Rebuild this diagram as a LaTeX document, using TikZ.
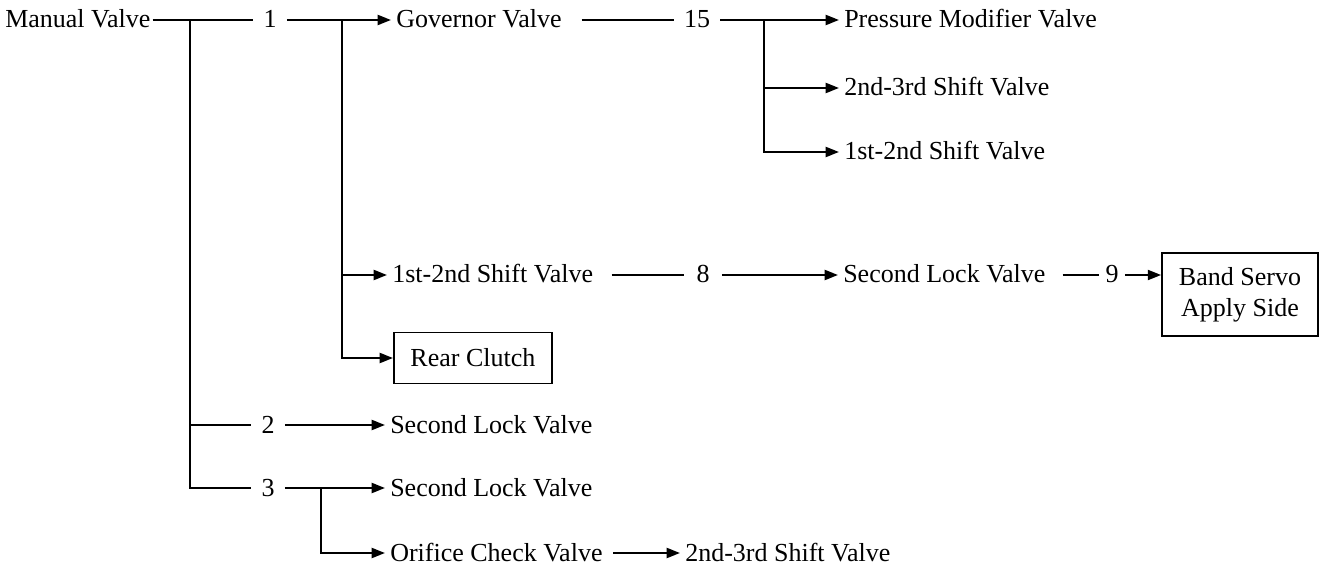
\documentclass[tikz,border=0pt]{standalone}
\usepackage{fontspec}
\setmainfont{Liberation Serif}
\usetikzlibrary{arrows.meta}
\begin{document}
\begin{tikzpicture}[x=0.75pt,y=-0.75pt,
  every node/.style={font=\fontsize{19.5pt}{23pt}\selectfont, inner ysep=0pt},
  lbl/.style={anchor=west, inner xsep=3.75pt, text height=15.5pt, text depth=3.5pt},
  num/.style={anchor=center, text height=15.5pt, text depth=3.5pt},
  box/.style={draw, line width=1.3pt, inner sep=0pt},
  wire/.style={line width=1.5pt},
  arr/.style={wire, -{Triangle[length=10pt,width=7.5pt]}}]
\fill[white] (0,0) rectangle (1323,566);
\useasboundingbox (0,0) rectangle (1323,566);

% nodes
\node[lbl, inner xsep=0pt] (mv) at (5,20) {Manual Valve};
\node[num, inner xsep=7.5pt] (n1) at (270,20) {1};
\node[lbl] (gv) at (391,20) {Governor Valve};
\node[num, inner xsep=7.5pt] (n15) at (697,20) {15};
\node[lbl] (pmv) at (839,20) {Pressure Modifier Valve};
\node[lbl] (s23a) at (839,88) {2nd-3rd Shift Valve};
\node[lbl] (s12a) at (839,152) {1st-2nd Shift Valve};
\node[lbl] (s12b) at (387,275) {1st-2nd Shift Valve};
\node[num, inner xsep=9pt] (n8) at (703,275) {8};
\node[lbl] (slb) at (838,275) {Second Lock Valve};
\node[num, inner xsep=4.5pt] (n9) at (1112,275) {9};
\node[box, align=center, minimum width=117pt, minimum height=62.25pt] (bs) at (1240,294.5) {Band Servo\\Apply Side};
\node[box, anchor=west, minimum width=118.5pt, minimum height=38.25pt] (rc) at (393,358) {Rear Clutch};
\node[num, inner xsep=7.5pt] (n2) at (268,425) {2};
\node[lbl] (sl2) at (385,425) {Second Lock Valve};
\node[num, inner xsep=7.5pt] (n3) at (268,488) {3};
\node[lbl] (sl3) at (385,488) {Second Lock Valve};
\node[lbl] (ocv) at (385,553) {Orifice Check Valve};
\node[lbl] (s23b) at (680,553) {2nd-3rd Shift Valve};

% junctions
\coordinate (jm) at (190,20);
\coordinate (j1) at (342,20);
\coordinate (j15) at (764,20);
\coordinate (j3) at (321,488);

% connectors
\draw[wire, shorten <=1.5pt] (mv.east) -- (n1.west);
\draw[arr] (n1.east) -- (gv.west);
\draw[wire] (jm) |- (n2.west);
\draw[wire] (jm) |- (n3.west);
\draw[arr] (j1) |- (s12b.west);
\draw[arr] (j1) |- (rc.west);
\draw[wire, shorten <=11pt] (gv.east) -- (n15.west);
\draw[arr] (n15.east) -- (pmv.west);
\draw[arr] (j15) |- (s23a.west);
\draw[arr] (j15) |- (s12a.west);
\draw[wire, shorten <=10pt] (s12b.east) -- (n8.west);
\draw[arr] (n8.east) -- (slb.west);
\draw[wire, shorten <=9pt] (slb.east) -- (n9.west);
\draw[arr] (n9.east) -- (n9.east -| bs.west);
\draw[arr] (n2.east) -- (sl2.west);
\draw[arr] (n3.east) -- (sl3.west);
\draw[arr] (j3) |- (ocv.west);
\draw[arr, shorten <=4pt] (ocv.east) -- (s23b.west);
\end{tikzpicture}
\end{document}
